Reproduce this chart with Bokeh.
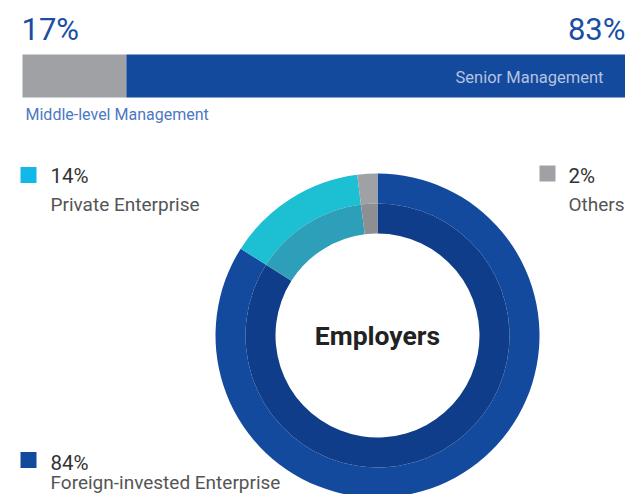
import math
from bokeh.plotting import figure
from bokeh.models import Range1d
from bokeh.core.properties import value
from bokeh.embed import file_html
from bokeh.resources import INLINE

# ---- data ----
bar_labels = ["Middle-level Management", "Senior Management"]
bar_values = [17, 83]
bar_colors = ["#A0A1A5", "#144A9E"]

donut_labels = ["Foreign-invested Enterprise", "Private Enterprise", "Others"]
donut_values = [84, 14, 2]
donut_outer = ["#144A9E", "#1DBFD3", "#A0A1A5"]
donut_inner = ["#0F3D89", "#2E9FB9", "#8E8F93"]
legend_colors = ["#144A9E", "#12B8E8", "#A0A1A5"]
center_title = "Employers"

W, H = 625, 494
FONT = value("Roboto")


def Y(sy):
    # reference pixel row -> data y
    return H - sy


p = figure(width=W, height=H, output_backend="svg", toolbar_location=None,
           x_range=Range1d(0, W), y_range=Range1d(0, H),
           min_border=0, border_fill_color="white", background_fill_color="white",
           outline_line_color=None)
p.axis.visible = False
p.grid.visible = False

# ---- top stacked bar ----
bar_left, bar_right = 22, 633
scale = (bar_right - bar_left) / sum(bar_values)
lefts, rights, acc = [], [], bar_left
for v in bar_values:
    lefts.append(acc)
    acc += v * scale
    rights.append(acc)
p.quad(left=lefts, right=rights, top=[Y(54)] * 2, bottom=[Y(97)] * 2,
       fill_color=bar_colors, line_color=None)

p.text(x=[21], y=[Y(29)], text=[f"{bar_values[0]}%"], text_font=FONT,
       text_font_size="31px", text_color="#1A4EA2", text_baseline="middle", text_align="left")
p.text(x=[625], y=[Y(29)], text=[f"{bar_values[1]}%"], text_font=FONT,
       text_font_size="31px", text_color="#1A4EA2", text_baseline="middle", text_align="right")
p.text(x=[603], y=[Y(76.5)], text=[bar_labels[1]], text_font=FONT,
       text_font_size="16.5px", text_color="#B4C3E0", text_baseline="middle", text_align="right")
p.text(x=[25], y=[Y(114)], text=[bar_labels[0]], text_font=FONT,
       text_font_size="16px", text_color="#4C78C4", text_baseline="middle", text_align="left")

# ---- donut ----
cx, cy = 377, Y(335)
total = sum(donut_values)
starts, ends = [], []
cum = 0
for v in donut_values:
    a_end = math.pi / 2 - 2 * math.pi * cum / total
    cum += v
    a_start = math.pi / 2 - 2 * math.pi * cum / total
    starts.append(a_start)
    ends.append(a_end)

p.annular_wedge(x=[cx] * 3, y=[cy] * 3, inner_radius=132, outer_radius=162,
                inner_radius_units="screen", outer_radius_units="screen",
                start_angle=starts, end_angle=ends, fill_color=donut_outer,
                line_color=None)
p.annular_wedge(x=[cx] * 3, y=[cy] * 3, inner_radius=102, outer_radius=132,
                inner_radius_units="screen", outer_radius_units="screen",
                start_angle=starts, end_angle=ends, fill_color=donut_inner,
                line_color=None)
p.text(x=[cx], y=[Y(335)], text=[center_title], text_font=FONT, text_font_size="26.5px",
       text_font_style="bold", text_color="#222222", text_baseline="middle", text_align="center")

# ---- legend ----
leg_pos = {  # index -> (square cx, square cy, text x, pct center, label center)
    1: (28, 174.5, 50, 175, 204),
    2: (547, 173, 568, 175, 204),
    0: (28, 459.5, 50, 462, 481.5),
}
for i, (sx, sy, tx, b1, b2) in leg_pos.items():
    p.rect(x=[sx], y=[Y(sy)], width=16, height=16, width_units="screen",
           height_units="screen", fill_color=legend_colors[i], line_color=None)
    p.text(x=[tx], y=[Y(b1)], text=[f"{donut_values[i]}%"], text_font=FONT,
           text_font_size="20.5px", text_color="#333333", text_baseline="middle", text_align="left")
    p.text(x=[tx], y=[Y(b2)], text=[donut_labels[i]], text_font=FONT,
           text_font_size="19px", text_color="#555555", text_baseline="middle", text_align="left")

open("out.html", "w").write(file_html(p, INLINE))
